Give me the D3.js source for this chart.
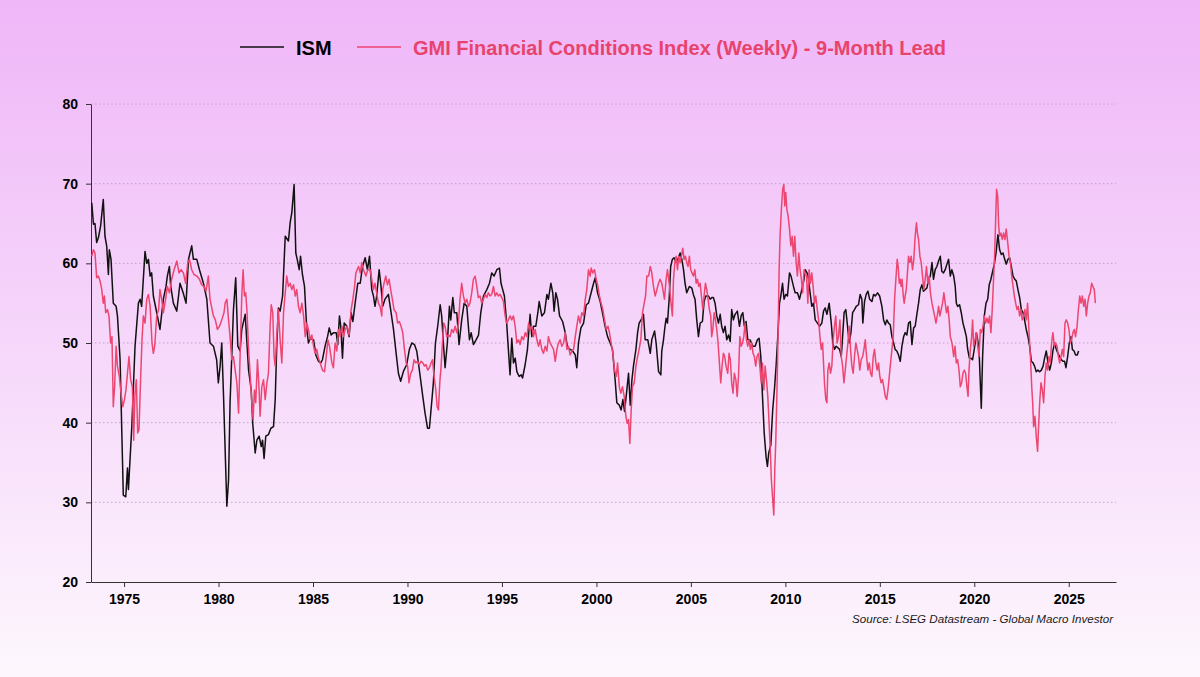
<!DOCTYPE html>
<html>
<head>
<meta charset="utf-8">
<script src="https://cdn.jsdelivr.net/npm/d3@7"></script>
<style>
  html, body { margin: 0; padding: 0; }
  body { width: 1200px; height: 677px; overflow: hidden; }
</style>
</head>
<body>
<div id="d3Container"></div>
<script>
// values: [decimal year, value]
const seriesNames = ['ISM', 'GMI Financial Conditions Index (Weekly) - 9-Month Lead']
const yearTicks = [1975, 1980, 1985, 1990, 1995, 2000, 2005, 2010, 2015, 2020, 2025]
const valueTicks = [20, 30, 40, 50, 60, 70, 80]
const sourceNote = 'Source: LSEG Datastream - Global Macro Investor'

const ism = [
  [1973.29,67.6],[1973.38,64.9],[1973.46,65.0],[1973.55,62.6],[1973.64,63.2],[1973.76,64.7],[1973.90,68.0],[1973.99,63.4],[1974.08,62.2],[1974.17,58.6],[1974.22,61.7],[1974.31,60.5],[1974.43,55.0],[1974.58,54.6],[1974.65,53.4],[1974.79,47.9],[1974.96,30.9],[1975.09,30.7],[1975.18,34.3],[1975.23,31.6],[1975.41,39.5],[1975.58,49.6],[1975.76,55.0],[1975.85,55.5],[1975.93,54.6],[1976.11,61.5],[1976.20,60.0],[1976.29,60.5],[1976.38,58.4],[1976.46,58.8],[1976.55,55.9],[1976.73,53.8],[1976.90,51.7],[1977.08,55.5],[1977.22,57.1],[1977.29,58.4],[1977.40,59.6],[1977.47,57.1],[1977.61,55.0],[1977.79,54.0],[1977.96,57.5],[1978.14,56.2],[1978.28,55.0],[1978.41,60.5],[1978.58,62.2],[1978.67,60.5],[1978.85,60.5],[1978.99,59.2],[1979.20,57.5],[1979.38,55.5],[1979.55,50.0],[1979.73,49.6],[1979.90,47.9],[1979.99,45.0],[1980.08,47.0],[1980.17,50.0],[1980.26,43.7],[1980.44,29.5],
  [1980.53,32.8],[1980.61,42.5],[1980.70,48.3],[1980.79,54.2],[1980.91,58.2],[1981.02,49.6],[1981.14,49.0],[1981.23,51.7],[1981.41,53.6],[1981.59,46.6],[1981.73,44.1],[1981.81,39.9],[1981.94,36.2],[1982.03,37.8],[1982.15,38.3],[1982.26,37.0],[1982.33,37.8],[1982.41,35.5],[1982.50,38.3],[1982.64,38.5],[1982.77,39.3],[1982.91,39.5],[1983.00,42.9],[1983.08,49.6],[1983.17,54.4],[1983.26,54.0],[1983.39,55.9],[1983.53,63.4],[1983.70,62.8],[1983.79,65.1],[1983.88,66.4],[1984.00,69.9],[1984.09,61.3],[1984.18,60.3],[1984.27,59.2],[1984.34,60.9],[1984.44,58.6],[1984.55,57.1],[1984.67,51.7],[1984.76,50.0],[1984.85,50.6],[1985.03,50.4],[1985.15,48.5],[1985.29,47.7],[1985.41,47.5],[1985.50,47.9],[1985.64,49.6],[1985.77,50.8],[1985.86,51.9],[1985.96,51.0],[1986.09,51.3],[1986.23,51.3],[1986.31,49.8],[1986.40,53.4],[1986.47,52.1],[1986.56,48.1],[1986.65,52.5],[1986.79,52.1],[1986.91,50.8],[1987.02,53.8],[1987.11,52.7],[1987.23,55.0],[1987.37,57.5],[1987.50,57.5],[1987.62,59.6],[1987.76,60.7],[1987.88,59.2],[1987.99,60.9],[1988.11,56.7],
  [1988.20,55.9],[1988.28,54.6],[1988.37,55.9],[1988.50,59.2],[1988.60,57.1],[1988.69,54.6],[1988.81,55.5],[1988.99,56.1],[1989.11,54.2],[1989.26,51.7],[1989.40,48.7],[1989.52,46.2],[1989.64,45.2],[1989.78,46.4],[1989.96,47.3],[1990.10,49.2],[1990.23,50.0],[1990.37,49.8],[1990.49,49.0],[1990.63,46.6],[1990.81,43.3],[1990.93,41.2],[1991.06,39.3],[1991.16,39.3],[1991.28,42.5],[1991.37,45.0],[1991.48,50.0],[1991.60,52.1],[1991.73,54.8],[1991.81,53.4],[1991.90,50.0],[1991.99,46.9],[1992.11,50.0],[1992.22,54.6],[1992.29,52.9],[1992.40,55.7],[1992.48,53.8],[1992.61,53.8],[1992.73,49.8],[1992.87,52.9],[1993.00,55.0],[1993.14,54.6],[1993.28,50.4],[1993.37,51.3],[1993.49,49.8],[1993.63,50.4],[1993.76,51.0],[1993.88,53.8],[1994.02,55.9],[1994.20,56.7],[1994.34,57.5],[1994.46,58.8],[1994.58,58.4],[1994.73,59.2],[1994.87,59.4],[1994.95,57.5],[1995.04,56.7],[1995.13,55.9],[1995.25,52.5],[1995.34,49.2],[1995.43,46.0],[1995.52,50.6],[1995.61,47.5],
  [1995.70,48.1],[1995.79,46.4],[1995.91,45.8],[1996.02,46.0],[1996.09,45.6],[1996.23,47.3],[1996.35,49.2],[1996.49,53.6],[1996.58,50.8],[1996.67,52.1],[1996.79,52.1],[1996.90,53.8],[1996.97,55.2],[1997.11,53.4],[1997.25,53.8],[1997.38,56.1],[1997.46,55.5],[1997.59,57.5],[1997.69,56.3],[1997.76,54.0],[1997.85,56.3],[1997.94,55.5],[1998.05,53.4],[1998.21,52.7],[1998.35,51.3],[1998.47,49.4],[1998.61,49.2],[1998.74,49.0],[1998.88,48.5],[1998.96,46.9],[1999.05,50.0],[1999.18,51.9],[1999.32,52.5],[1999.46,54.8],[1999.58,55.0],[1999.72,56.3],[1999.85,57.5],[1999.94,58.2],[2000.06,56.3],[2000.20,55.2],[2000.32,53.8],[2000.46,52.1],[2000.59,50.8],[2000.73,50.0],[2000.85,49.2],[2000.99,45.4],[2001.08,42.5],[2001.21,42.2],[2001.31,41.6],[2001.40,42.9],[2001.49,41.4],[2001.61,44.1],[2001.70,46.2],[2001.79,42.2],[2001.88,45.4],[2001.96,47.1],[2002.09,49.2],[2002.18,51.3],[2002.26,52.5],[2002.41,53.1],[2002.49,53.6],[2002.58,50.4],[2002.72,50.4],[2002.85,48.7],[2002.93,50.4],[2003.08,51.5],[2003.16,50.0],[2003.29,46.4],[2003.41,46.0],
  [2003.46,49.0],[2003.55,50.4],[2003.63,52.1],[2003.69,53.1],[2003.76,52.5],[2003.85,55.5],[2003.93,59.6],[2004.02,60.5],[2004.11,60.7],[2004.22,60.1],[2004.34,60.7],[2004.43,61.3],[2004.52,60.5],[2004.61,59.2],[2004.69,57.5],[2004.78,56.3],[2004.92,57.1],[2005.05,56.9],[2005.13,56.1],[2005.22,55.5],[2005.31,52.9],[2005.40,50.8],[2005.49,52.5],[2005.61,52.7],[2005.70,55.2],[2005.79,55.9],[2005.93,55.9],[2006.02,55.5],[2006.11,55.7],[2006.19,55.7],[2006.28,55.0],[2006.37,53.4],[2006.46,52.5],[2006.55,53.6],[2006.63,52.1],[2006.72,51.3],[2006.81,52.1],[2006.90,50.4],[2006.99,51.0],[2007.08,50.2],[2007.16,54.2],[2007.25,52.9],[2007.34,53.6],[2007.46,54.0],[2007.57,52.1],[2007.66,53.4],[2007.75,53.8],[2007.83,52.1],[2007.92,52.7],[2008.01,50.4],[2008.13,50.4],[2008.28,49.6],[2008.40,49.6],[2008.52,50.4],[2008.61,50.6],[2008.70,48.3],[2008.79,43.3],[2008.88,38.7],[2008.98,35.7],[2009.05,34.5],[2009.12,36.2],[2009.23,37.2],[2009.33,41.6],[2009.42,44.1],[2009.51,47.1],[2009.60,50.8],[2009.69,55.0],[2009.76,55.9],[2009.85,57.5],[2009.93,55.5],[2010.02,56.1],[2010.11,55.9],[2010.22,58.8],[2010.30,58.4],[2010.43,57.1],[2010.52,56.3],[2010.64,56.3],[2010.75,55.5],[2010.87,56.7],[2010.99,58.0],
  [2011.05,59.2],[2011.19,58.6],[2011.31,56.3],[2011.40,54.6],[2011.49,55.0],[2011.58,52.9],[2011.70,52.5],[2011.81,52.1],[2011.93,52.5],[2012.02,54.0],[2012.11,54.4],[2012.20,53.6],[2012.32,55.0],[2012.43,52.5],[2012.51,50.0],[2012.60,49.2],[2012.69,49.6],[2012.78,49.4],[2012.87,49.2],[2012.96,48.3],[2013.03,50.8],[2013.11,53.8],[2013.20,54.2],[2013.29,52.1],[2013.38,50.0],[2013.47,51.3],[2013.56,53.8],[2013.66,54.2],[2013.75,54.6],[2013.87,54.8],[2013.96,56.1],[2014.05,55.5],[2014.10,52.5],[2014.19,55.2],[2014.28,56.1],[2014.37,56.5],[2014.46,55.5],[2014.58,55.2],[2014.67,56.1],[2014.76,55.9],[2014.88,56.3],[2014.99,55.9],[2015.11,54.6],[2015.20,52.9],[2015.29,52.3],[2015.37,52.9],[2015.46,52.5],[2015.55,52.3],[2015.64,50.8],[2015.73,50.0],[2015.81,49.2],[2015.90,49.0],[2015.99,48.5],[2016.08,47.7],[2016.17,49.6],[2016.26,50.8],[2016.34,51.3],[2016.43,51.0],[2016.52,52.5],[2016.61,52.7],[2016.70,49.8],[2016.79,51.9],[2016.87,52.1],[2016.96,53.6],[2017.05,55.0],[2017.14,56.7],[2017.23,57.3],[2017.31,56.5],[2017.40,56.7],[2017.49,56.9],[2017.58,58.0],[2017.67,58.4],[2017.76,60.1],[2017.84,58.0],[2017.93,59.2],[2018.02,59.6],[2018.11,60.3],[2018.20,60.9],[2018.28,59.0],[2018.37,58.8],[2018.46,59.2],[2018.55,59.9],[2018.64,60.5],[2018.73,58.4],[2018.81,59.2],
  [2018.91,58.4],[2018.99,57.1],[2019.05,55.0],[2019.12,54.6],[2019.22,54.8],[2019.31,53.8],[2019.40,52.5],[2019.49,51.7],[2019.58,50.8],[2019.65,49.2],[2019.74,48.1],[2019.82,48.1],[2019.91,47.9],[2020.05,50.0],[2020.11,51.3],[2020.18,50.4],[2020.25,49.2],[2020.37,41.8],[2020.44,48.3],[2020.53,53.4],[2020.62,55.0],[2020.71,55.5],[2020.79,57.3],[2020.88,58.0],[2020.97,59.0],[2021.06,59.9],[2021.15,61.3],[2021.25,63.6],[2021.34,61.7],[2021.43,61.1],[2021.52,61.3],[2021.61,60.5],[2021.69,59.9],[2021.78,60.5],[2021.87,60.7],[2021.96,59.6],[2022.05,58.4],[2022.14,58.0],[2022.22,57.8],[2022.31,56.7],[2022.40,55.7],[2022.49,54.2],[2022.58,53.8],[2022.66,52.9],[2022.75,51.7],[2022.84,50.8],[2022.93,49.6],[2023.02,47.7],[2023.11,47.5],[2023.19,47.1],[2023.28,46.4],[2023.37,46.6],[2023.46,46.4],[2023.55,46.6],[2023.64,47.1],[2023.72,48.1],[2023.81,49.0],[2023.90,47.5],[2023.99,46.6],[2024.08,47.5],[2024.16,49.0],[2024.25,50.0],[2024.34,49.2],[2024.43,48.7],[2024.52,48.3],[2024.61,47.9],[2024.69,47.7],[2024.78,47.7],[2024.85,46.9],[2024.94,48.3],[2025.03,50.0],[2025.12,50.8],[2025.19,49.2],[2025.28,49.0],[2025.36,48.5],[2025.45,48.5],[2025.52,49.0]
]

const gmi = [
  [1973.29,60.9],[1973.38,61.7],[1973.46,61.3],[1973.55,58.2],[1973.64,58.4],[1973.73,57.8],[1973.82,56.7],[1973.90,55.0],[1973.96,55.9],[1974.03,53.8],[1974.12,54.2],[1974.20,53.4],[1974.29,50.0],[1974.36,50.8],[1974.43,42.0],[1974.50,44.5],[1974.58,49.6],[1974.65,47.1],[1974.75,45.8],[1974.82,44.1],[1974.93,42.0],[1975.02,42.9],[1975.10,44.1],[1975.18,46.2],[1975.26,48.3],[1975.35,45.4],[1975.44,44.5],[1975.51,37.8],[1975.58,43.7],[1975.65,45.4],[1975.72,38.7],[1975.79,39.1],[1975.88,45.8],[1975.95,50.4],[1976.02,53.4],[1976.11,52.5],[1976.20,55.5],[1976.29,56.1],[1976.38,54.6],[1976.48,50.0],[1976.55,48.7],[1976.62,49.6],[1976.73,53.4],[1976.83,54.2],[1976.90,56.7],[1976.99,55.5],[1977.08,53.8],[1977.20,55.5],[1977.29,57.1],[1977.40,56.3],[1977.52,58.0],[1977.65,59.2],[1977.79,60.3],[1977.91,58.8],[1978.02,59.2],[1978.14,58.8],[1978.26,57.5],[1978.37,60.1],[1978.46,60.5],[1978.58,59.2],[1978.70,58.6],[1978.85,58.4],[1978.99,58.0],[1979.11,57.3],[1979.23,57.1],[1979.34,56.5],[1979.46,58.4],[1979.55,55.5],[1979.66,54.2],[1979.73,53.4],[1979.83,52.9],[1979.94,51.7],[1980.05,52.1],[1980.17,52.9],[1980.29,53.8],
  [1980.35,55.0],[1980.44,55.5],[1980.53,52.9],[1980.61,50.8],[1980.70,47.9],[1980.79,48.3],[1980.88,46.6],[1980.97,45.0],[1981.06,41.2],[1981.14,48.3],[1981.23,55.9],[1981.30,59.2],[1981.37,55.9],[1981.44,56.3],[1981.51,53.8],[1981.59,49.2],[1981.67,46.2],[1981.76,42.5],[1981.83,40.4],[1981.90,44.1],[1981.97,42.5],[1982.06,47.9],[1982.13,45.0],[1982.20,40.8],[1982.29,44.5],[1982.38,45.4],[1982.47,42.9],[1982.56,45.0],[1982.64,46.2],[1982.73,52.1],[1982.79,54.8],[1982.87,53.8],[1982.94,48.3],[1983.00,47.1],[1983.08,50.8],[1983.17,54.2],[1983.26,50.4],[1983.35,47.5],[1983.44,53.8],[1983.53,56.3],[1983.61,58.4],[1983.70,57.1],[1983.79,57.5],[1983.88,56.7],[1983.97,57.3],[1984.06,55.9],[1984.14,56.7],[1984.23,54.6],[1984.32,53.8],[1984.41,55.0],[1984.50,53.4],[1984.59,50.8],[1984.67,52.5],[1984.76,51.7],[1984.85,50.4],[1984.94,51.0],[1985.03,49.6],[1985.11,48.7],[1985.20,49.2],[1985.29,48.1],[1985.38,47.5],[1985.50,46.6],[1985.61,46.4],[1985.70,48.3],[1985.79,50.4],[1985.87,49.6],[1986.00,47.5],[1986.08,46.9],[1986.17,50.0],[1986.26,49.0],[1986.35,51.7],[1986.44,50.8],[1986.53,52.1],[1986.61,50.8],[1986.70,51.7],[1986.81,52.1],[1986.91,51.0],[1987.02,54.2],[1987.11,55.5],[1987.20,57.1],[1987.27,58.8],[1987.41,59.6],[1987.50,58.8],[1987.58,60.1],[1987.67,59.2],[1987.80,58.4],[1987.90,59.2],
  [1988.02,59.2],[1988.11,58.0],[1988.20,56.7],[1988.28,57.5],[1988.37,56.3],[1988.46,55.0],[1988.55,54.6],[1988.64,53.4],[1988.69,56.7],[1988.76,57.5],[1988.85,58.4],[1988.94,57.3],[1989.03,58.0],[1989.11,56.7],[1989.20,55.5],[1989.29,54.2],[1989.40,53.8],[1989.48,52.5],[1989.57,52.7],[1989.66,52.1],[1989.75,51.3],[1989.84,49.2],[1989.93,47.5],[1990.01,47.1],[1990.08,45.0],[1990.17,46.2],[1990.26,46.6],[1990.35,47.9],[1990.44,47.5],[1990.53,47.7],[1990.63,47.3],[1990.72,47.7],[1990.81,47.5],[1990.90,47.1],[1990.98,47.3],[1991.07,46.6],[1991.16,46.9],[1991.25,47.5],[1991.32,47.9],[1991.41,45.8],[1991.50,44.1],[1991.57,42.0],[1991.64,41.6],[1991.71,45.0],[1991.78,47.1],[1991.85,50.0],[1991.92,52.5],[1991.99,52.1],[1992.08,50.8],[1992.17,51.0],[1992.26,50.8],[1992.34,51.7],[1992.43,51.3],[1992.52,52.1],[1992.61,51.3],[1992.70,52.5],[1992.78,55.5],[1992.87,57.5],[1992.96,55.9],[1993.05,55.0],[1993.14,55.5],[1993.23,54.6],[1993.31,55.0],[1993.40,56.3],[1993.49,58.0],[1993.58,58.4],[1993.67,57.1],[1993.75,55.7],[1993.84,55.9],[1993.93,55.0],[1994.02,55.5],[1994.11,56.1],[1994.20,55.7],[1994.28,56.3],[1994.37,55.9],[1994.46,56.1],[1994.55,57.1],[1994.64,55.9],[1994.73,56.3],[1994.81,55.9],[1994.90,56.1],[1994.99,55.7],[1995.08,55.2],[1995.17,53.4],[1995.25,52.5],[1995.34,52.9],[1995.43,53.4],[1995.52,52.9],[1995.61,53.4],
  [1995.70,52.1],[1995.79,50.0],[1995.88,50.4],[1995.96,49.8],[1996.05,50.8],[1996.14,50.4],[1996.23,51.3],[1996.32,50.8],[1996.41,52.5],[1996.49,51.7],[1996.58,52.1],[1996.67,50.8],[1996.76,51.7],[1996.85,50.4],[1996.94,49.6],[1997.02,50.4],[1997.11,49.2],[1997.20,48.7],[1997.29,49.6],[1997.38,49.0],[1997.46,50.8],[1997.55,50.0],[1997.64,49.6],[1997.73,49.2],[1997.82,47.7],[1997.91,49.2],[1997.99,50.0],[1998.08,50.4],[1998.17,49.6],[1998.26,50.0],[1998.35,51.3],[1998.44,49.2],[1998.52,49.6],[1998.61,48.5],[1998.70,49.0],[1998.79,49.2],[1998.88,50.8],[1998.96,52.1],[1999.05,53.4],[1999.14,52.5],[1999.23,53.8],[1999.32,53.4],[1999.41,55.5],[1999.49,56.7],[1999.58,59.2],[1999.67,58.4],[1999.72,59.4],[1999.81,58.8],[1999.90,59.2],[1999.99,58.0],[2000.08,57.1],[2000.16,55.9],[2000.25,55.0],[2000.34,54.2],[2000.43,52.9],[2000.52,51.7],[2000.61,52.1],[2000.69,51.3],[2000.78,50.0],[2000.87,48.7],[2000.96,46.6],[2001.05,45.8],[2001.12,47.5],[2001.21,44.5],[2001.29,43.7],[2001.38,44.5],[2001.47,43.3],[2001.56,40.8],[2001.63,39.9],[2001.70,40.4],[2001.77,37.4],[2001.84,41.6],[2001.91,44.5],[2002.00,45.0],[2002.09,47.1],[2002.18,48.3],[2002.26,49.2],[2002.35,50.4],[2002.44,53.8],[2002.53,55.0],[2002.60,55.9],[2002.67,58.4],[2002.76,58.4],[2002.85,59.6],[2002.93,58.8],[2003.02,57.1],[2003.11,55.9],[2003.20,56.7],[2003.29,57.5],
  [2003.37,58.0],[2003.46,57.5],[2003.55,56.3],[2003.60,55.5],[2003.69,58.0],[2003.76,59.2],[2003.85,57.5],[2003.93,55.5],[2004.02,53.4],[2004.08,58.0],[2004.15,60.1],[2004.22,60.9],[2004.29,59.2],[2004.36,60.9],[2004.43,60.1],[2004.50,60.9],[2004.57,61.9],[2004.64,60.5],[2004.71,60.9],[2004.78,60.1],[2004.85,59.6],[2004.92,60.9],[2004.99,59.2],[2005.06,58.8],[2005.13,58.4],[2005.21,59.2],[2005.28,57.5],[2005.35,58.0],[2005.42,57.1],[2005.49,57.5],[2005.56,55.9],[2005.63,54.2],[2005.70,55.9],[2005.77,57.5],[2005.84,56.7],[2005.91,55.5],[2005.98,54.2],[2006.05,53.4],[2006.10,50.8],[2006.16,51.7],[2006.23,53.8],[2006.30,52.9],[2006.37,51.7],[2006.44,50.0],[2006.51,47.5],[2006.58,45.0],[2006.65,47.1],[2006.72,48.7],[2006.79,48.3],[2006.86,47.1],[2006.95,46.2],[2007.02,48.7],[2007.09,47.9],[2007.16,45.0],[2007.23,43.7],[2007.30,46.2],[2007.38,45.4],[2007.45,43.3],[2007.52,45.8],[2007.59,50.8],[2007.66,49.6],[2007.73,50.0],[2007.80,50.8],[2007.87,52.5],[2007.94,50.4],[2008.01,49.6],[2008.08,50.4],[2008.15,49.2],[2008.22,50.0],[2008.29,48.7],[2008.36,48.3],[2008.43,47.1],[2008.50,48.3],[2008.58,48.7],[2008.65,47.1],[2008.72,45.0],[2008.79,47.5],[2008.86,44.1],[2008.93,47.1],[2009.00,45.4],[2009.07,43.3],[2009.14,39.9],[2009.21,36.2],[2009.26,32.8],[2009.32,30.7],[2009.39,28.4],[2009.44,34.1],[2009.49,37.4],[2009.55,43.3],[2009.62,51.7],[2009.67,59.2],[2009.72,63.4],[2009.79,66.8],[2009.86,69.3],[2009.92,69.9],[2009.97,67.2],[2010.02,68.9],[2010.08,66.8],[2010.15,65.9],[2010.22,64.3],[2010.29,62.2],[2010.36,63.4],[2010.43,60.9],[2010.50,63.4],[2010.57,60.1],[2010.64,58.4],[2010.71,61.3],[2010.78,59.2],[2010.85,58.0],[2010.92,56.3],[2010.99,59.2],
  [2011.05,58.8],[2011.12,58.4],[2011.19,55.0],[2011.26,59.2],[2011.33,57.5],[2011.40,58.8],[2011.47,57.1],[2011.54,55.0],[2011.61,55.9],[2011.69,54.2],[2011.76,52.9],[2011.83,50.8],[2011.90,49.2],[2011.97,50.0],[2012.02,47.5],[2012.07,45.0],[2012.14,42.9],[2012.20,42.5],[2012.25,46.6],[2012.32,47.5],[2012.39,46.2],[2012.46,47.1],[2012.53,50.4],[2012.60,52.1],[2012.67,53.4],[2012.74,50.0],[2012.81,50.8],[2012.89,52.9],[2012.96,48.3],[2013.03,47.1],[2013.10,45.0],[2013.17,46.6],[2013.24,48.3],[2013.31,50.0],[2013.38,52.1],[2013.45,49.2],[2013.52,47.1],[2013.59,46.2],[2013.66,48.3],[2013.73,50.0],[2013.80,49.2],[2013.87,48.3],[2013.94,46.6],[2014.01,47.9],[2014.09,48.3],[2014.16,49.2],[2014.23,50.4],[2014.30,48.3],[2014.37,46.6],[2014.44,47.5],[2014.51,46.2],[2014.58,45.8],[2014.65,48.3],[2014.72,49.2],[2014.79,47.5],[2014.86,46.6],[2014.93,47.5],[2015.00,45.8],[2015.07,45.0],[2015.14,45.4],[2015.21,44.5],[2015.29,43.3],[2015.36,42.9],[2015.43,44.1],[2015.50,45.8],[2015.57,47.5],[2015.64,49.2],[2015.71,50.8],[2015.78,55.5],[2015.85,58.0],[2015.92,60.5],[2015.97,59.6],[2016.03,57.5],[2016.08,58.0],[2016.13,57.1],[2016.18,58.0],[2016.24,55.9],[2016.29,55.0],[2016.34,55.9],[2016.40,56.7],[2016.45,58.4],[2016.52,60.9],[2016.59,60.1],[2016.66,60.9],[2016.73,59.2],[2016.80,60.5],[2016.87,63.4],[2016.94,65.1],[2016.99,63.8],[2017.05,63.0],[2017.12,60.9],[2017.19,60.1],[2017.26,58.4],[2017.33,56.7],[2017.40,58.0],[2017.47,59.6],[2017.54,57.5],[2017.61,58.4],[2017.68,56.3],[2017.76,55.0],[2017.83,54.2],[2017.90,53.4],[2017.97,52.5],[2018.04,53.4],[2018.11,54.6],[2018.18,53.4],[2018.25,54.2],[2018.32,55.0],[2018.39,56.3],[2018.46,55.0],[2018.53,53.8],[2018.60,54.6],[2018.67,52.9],
  [2018.73,50.8],[2018.82,50.0],[2018.91,48.3],[2018.98,49.6],[2019.05,47.5],[2019.12,47.9],[2019.19,46.6],[2019.26,44.5],[2019.33,45.0],[2019.40,46.2],[2019.47,46.6],[2019.54,46.2],[2019.61,44.5],[2019.67,43.3],[2019.72,46.6],[2019.79,49.2],[2019.86,50.8],[2019.91,52.9],[2019.97,49.6],[2020.04,50.4],[2020.11,51.3],[2020.18,49.6],[2020.25,48.3],[2020.32,51.7],[2020.39,51.3],[2020.46,52.1],[2020.53,53.4],[2020.60,52.5],[2020.67,53.1],[2020.74,52.5],[2020.81,53.4],[2020.88,51.3],[2020.95,54.2],[2021.02,58.0],[2021.08,61.3],[2021.13,65.5],[2021.18,69.3],[2021.24,68.4],[2021.29,64.7],[2021.34,63.4],[2021.41,63.8],[2021.48,63.0],[2021.55,63.8],[2021.62,63.0],[2021.69,64.3],[2021.77,62.6],[2021.84,60.9],[2021.91,60.1],[2021.98,58.4],[2022.05,57.1],[2022.12,55.9],[2022.19,55.0],[2022.26,54.2],[2022.33,54.6],[2022.40,53.4],[2022.47,54.2],[2022.54,52.9],[2022.61,53.4],[2022.68,54.2],[2022.75,52.9],[2022.82,55.0],[2022.89,51.7],[2022.97,48.3],[2023.04,44.5],[2023.09,42.5],[2023.14,39.5],[2023.21,40.8],[2023.28,38.3],[2023.35,36.4],[2023.41,39.9],[2023.46,42.5],[2023.53,45.0],[2023.60,44.1],[2023.67,42.5],[2023.74,45.8],[2023.81,47.5],[2023.88,46.6],[2023.95,48.3],[2024.02,47.5],[2024.09,50.0],[2024.16,51.3],[2024.24,49.6],[2024.31,50.0],[2024.38,49.6],[2024.45,48.3],[2024.52,47.5],[2024.59,48.3],[2024.66,49.2],[2024.73,48.3],[2024.80,52.5],[2024.87,52.9],[2024.94,52.5],[2025.01,51.7],[2025.08,50.0],[2025.15,50.4],[2025.22,51.3],[2025.29,51.7],[2025.36,50.8],[2025.44,52.1],[2025.51,54.2],[2025.58,55.9],[2025.65,55.0],[2025.72,55.9],[2025.79,54.6],[2025.86,55.5],[2025.93,53.4],[2026.00,55.0],[2026.07,55.9],[2026.14,56.3],[2026.21,57.5],[2026.28,57.1],[2026.35,56.7],[2026.41,55.0]
]

const width = 1200
const height = 677
const padding = {top: 104, right: 84, bottom: 95, left: 91}
const FONT = "'Liberation Sans', Arial, sans-serif"
const ISM_COLOR = '#111111'
const GMI_COLOR = '#ec4671'

const svg = d3.select('#d3Container')
  .append('svg')
  .attr('width', width)
  .attr('height', height)

const grad = svg.append('defs').append('linearGradient')
  .attr('id', 'bg').attr('x1', 0).attr('y1', 0).attr('x2', 0).attr('y2', 1)
grad.append('stop').attr('offset', '0%').attr('stop-color', '#efb6f8')
grad.append('stop').attr('offset', '100%').attr('stop-color', '#fdf7fd')

svg.append('rect').attr('width', width).attr('height', height).attr('fill', 'url(#bg)')

const xScale = d3.scaleLinear().domain([1973.25, 2027.5]).range([padding.left, width - padding.right])
const yScale = d3.scaleLinear().domain([20, 80]).range([height - padding.bottom, padding.top])

// dotted gridlines
svg.append('g')
  .selectAll('line')
  .data(valueTicks.filter(v => v > 20))
  .enter()
  .append('line')
  .attr('x1', padding.left).attr('x2', width - padding.right)
  .attr('y1', d => yScale(d)).attr('y2', d => yScale(d))
  .attr('stroke', '#c4a2c8').attr('stroke-width', 1).attr('stroke-dasharray', '1.5,2.5')

const xAxis = d3.axisBottom(xScale).tickValues(yearTicks).tickFormat(d3.format('d'))
  .tickSize(5).tickSizeOuter(0).tickPadding(7)
const yAxis = d3.axisLeft(yScale).tickValues(valueTicks)
  .tickSize(5).tickSizeOuter(0).tickPadding(8)

const styleAxis = g => {
  g.select('.domain').attr('stroke', '#333')
  g.selectAll('.tick line').attr('stroke', '#333')
  g.selectAll('.tick text')
    .attr('fill', '#000').attr('font-size', 14).attr('font-weight', 'bold').attr('font-family', FONT)
}

svg.append('g').attr('transform', `translate(0, ${height - padding.bottom})`).call(xAxis).call(styleAxis)
svg.append('g').attr('transform', `translate(${padding.left}, 0)`).call(yAxis).call(styleAxis)

const line = d3.line().x(d => xScale(d[0])).y(d => yScale(d[1]))

svg.append('path').datum(ism)
  .attr('d', line).attr('fill', 'none').attr('stroke', ISM_COLOR).attr('stroke-width', 1.5)
  .attr('stroke-linejoin', 'round')

svg.append('path').datum(gmi)
  .attr('d', line).attr('fill', 'none').attr('stroke', GMI_COLOR).attr('stroke-width', 1.5)
  .attr('stroke-linejoin', 'round')

// legend
const legend = svg.append('g')
const legendItems = [
  {name: seriesNames[0], color: ISM_COLOR, x: 240},
  {name: seriesNames[1], color: GMI_COLOR, x: 357}
]
legend.selectAll('g.item')
  .data(legendItems)
  .enter()
  .append('g')
  .classed('item', true)
  .attr('transform', d => `translate(${d.x}, 47)`)
  .call(sel => {
    sel.append('line')
      .attr('x1', 0).attr('x2', 44).attr('y1', 0).attr('y2', 0)
      .attr('stroke', d => d.color).attr('stroke-width', 1.5)
    sel.append('text')
      .attr('x', 56).attr('y', 8)
      .attr('font-size', 20).attr('font-weight', 'bold').attr('font-family', FONT)
      .attr('fill', (d, i) => i === 0 ? '#000' : '#e8436d')
      .text(d => d.name)
  })

svg.append('text')
  .attr('x', 1113).attr('y', 623)
  .attr('text-anchor', 'end')
  .attr('font-size', 11.6).attr('font-style', 'italic').attr('font-family', FONT)
  .attr('fill', '#1a1a1a')
  .text(sourceNote)
</script>
</body>
</html>
